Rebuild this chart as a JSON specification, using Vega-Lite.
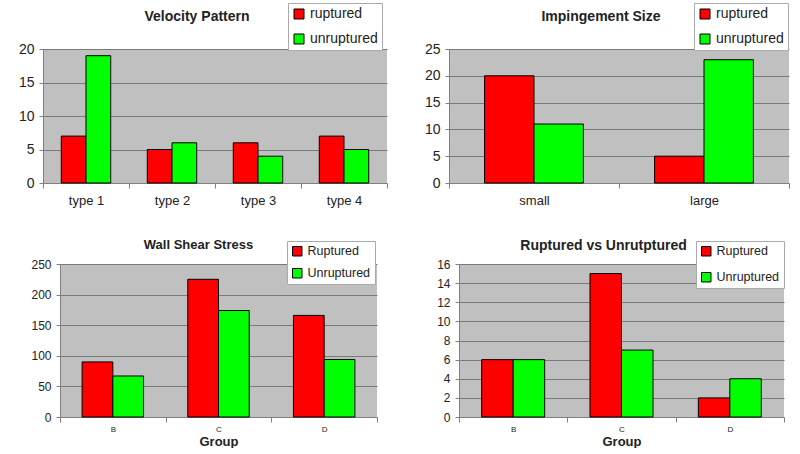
{
  "$schema": "https://vega.github.io/schema/vega-lite/v6.json",
  "background": "white",
  "padding": {"left": 0, "top": 2, "right": 0, "bottom": 0},
  "config": {
    "font": "Liberation Sans",
    "view": {"fill": "#C0C0C0", "stroke": null},
    "axis": {"labelColor": "#222", "domainColor": "#808080", "tickColor": "#808080", "gridColor": "#7a7a7a", "gridOpacity": 1, "labelFont": "Liberation Sans"},
    "axisY": {"grid": true, "tickSize": 4, "labelPadding": 5},
    "axisX": {"grid": false, "tickSize": 5, "labelAngle": 0},
    "title": {"font": "Liberation Sans", "fontWeight": "bold", "color": "#222", "frame": "group"},
    "legend": {"fillColor": "white", "strokeColor": "#aaa", "symbolType": "square", "symbolStrokeColor": "black", "symbolStrokeWidth": 1, "labelColor": "#222", "labelFont": "Liberation Sans", "labelOffset": 4}
  },
  "spacing": 31,
  "resolve": {"scale": {"color": "independent", "x": "independent", "y": "independent", "xOffset": "independent"}, "legend": {"color": "independent"}, "axis": {"x": "independent", "y": "independent"}},
  "vconcat": [
    {
      "spacing": 18,
      "resolve": {"scale": {"color": "independent", "x": "independent", "y": "independent", "xOffset": "independent"}, "legend": {"color": "independent"}},
      "hconcat": [
        {
          "width": 344, "height": 134,
          "title": {"text": "Velocity Pattern", "fontSize": 14, "dx": -18, "offset": -21},
          "data": {"values": [
            {"category": "type 1", "status": "ruptured", "count": 7},
            {"category": "type 1", "status": "unruptured", "count": 19},
            {"category": "type 2", "status": "ruptured", "count": 5},
            {"category": "type 2", "status": "unruptured", "count": 6},
            {"category": "type 3", "status": "ruptured", "count": 6},
            {"category": "type 3", "status": "unruptured", "count": 4},
            {"category": "type 4", "status": "ruptured", "count": 7},
            {"category": "type 4", "status": "unruptured", "count": 5}
          ]},
          "mark": {"type": "bar", "stroke": "black", "strokeWidth": 1},
          "encoding": {
            "x": {"field": "category", "type": "nominal", "sort": null, "scale": {"paddingInner": 0, "paddingOuter": 0}, "axis": {"title": null, "tickBand": "extent", "labelFontSize": 13, "labelPadding": 6}},
            "xOffset": {"field": "status", "sort": ["ruptured", "unruptured"], "scale": {"paddingInner": 0, "paddingOuter": 0.74}},
            "y": {"field": "count", "type": "quantitative", "scale": {"domain": [0, 20]}, "axis": {"title": null, "values": [0, 5, 10, 15, 20], "labelFontSize": 14, "minExtent": 43, "maxExtent": 43}},
            "color": {"field": "status", "type": "nominal", "scale": {"domain": ["ruptured", "unruptured"], "range": ["#FF0000", "#00FF00"]}, "legend": {"title": null, "orient": "none", "legendX": 245, "legendY": -46, "labelFontSize": 14, "symbolSize": 100, "rowPadding": 11, "padding": 4}}
          }
        },
        {
          "width": 340, "height": 134,
          "title": {"text": "Impingement Size", "fontSize": 14, "dx": -18, "offset": -21},
          "data": {"values": [
            {"category": "small", "status": "ruptured", "count": 20},
            {"category": "small", "status": "unruptured", "count": 11},
            {"category": "large", "status": "ruptured", "count": 5},
            {"category": "large", "status": "unruptured", "count": 23}
          ]},
          "mark": {"type": "bar", "stroke": "black", "strokeWidth": 1},
          "encoding": {
            "x": {"field": "category", "type": "nominal", "sort": null, "scale": {"paddingInner": 0, "paddingOuter": 0}, "axis": {"title": null, "tickBand": "extent", "labelFontSize": 13, "labelPadding": 6}},
            "xOffset": {"field": "status", "sort": ["ruptured", "unruptured"], "scale": {"paddingInner": 0, "paddingOuter": 0.72}},
            "y": {"field": "count", "type": "quantitative", "scale": {"domain": [0, 25]}, "axis": {"title": null, "values": [0, 5, 10, 15, 20, 25], "labelFontSize": 14, "minExtent": 43, "maxExtent": 43}},
            "color": {"field": "status", "type": "nominal", "scale": {"domain": ["ruptured", "unruptured"], "range": ["#FF0000", "#00FF00"]}, "legend": {"title": null, "orient": "none", "legendX": 245, "legendY": -46, "labelFontSize": 14, "symbolSize": 100, "rowPadding": 11, "padding": 4}}
          }
        }
      ]
    },
    {
      "spacing": -15,
      "resolve": {"scale": {"color": "independent", "x": "independent", "y": "independent", "xOffset": "independent"}, "legend": {"color": "independent"}},
      "hconcat": [
        {
          "width": 2, "height": 153,
          "view": {"fill": null, "stroke": null},
          "data": {"values": []},
          "mark": "point",
          "encoding": {}
        },
        {
          "width": 317, "height": 153,
          "title": {"text": "Wall Shear Stress", "fontSize": 13, "dx": -20, "offset": -11},
          "data": {"values": [
            {"category": "B", "status": "Ruptured", "value": 90},
            {"category": "B", "status": "Unruptured", "value": 67},
            {"category": "C", "status": "Ruptured", "value": 225},
            {"category": "C", "status": "Unruptured", "value": 174},
            {"category": "D", "status": "Ruptured", "value": 166},
            {"category": "D", "status": "Unruptured", "value": 94}
          ]},
          "mark": {"type": "bar", "stroke": "black", "strokeWidth": 1},
          "encoding": {
            "x": {"field": "category", "type": "nominal", "sort": null, "scale": {"paddingInner": 0, "paddingOuter": 0}, "axis": {"title": "Group", "titleFontSize": 13, "titleFontWeight": "bold", "titleColor": "#222", "titlePadding": 2, "tickBand": "extent", "labelFontSize": 8, "labelPadding": 3}},
            "xOffset": {"field": "status", "sort": ["Ruptured", "Unruptured"], "scale": {"paddingInner": 0, "paddingOuter": 0.72}},
            "y": {"field": "value", "type": "quantitative", "scale": {"domain": [0, 250]}, "axis": {"title": null, "values": [0, 50, 100, 150, 200, 250], "labelFontSize": 12, "minExtent": 30, "maxExtent": 30}},
            "color": {"field": "status", "type": "nominal", "scale": {"domain": ["Ruptured", "Unruptured"], "range": ["#FF0000", "#00FF00"]}, "legend": {"title": null, "orient": "none", "legendX": 227, "legendY": -23, "labelFontSize": 12.5, "symbolSize": 90, "rowPadding": 8, "padding": 4}}
          }
        },
        {
          "width": 325, "height": 153,
          "title": {"text": "Ruptured vs Unrutptured", "fontSize": 14, "dx": -18, "offset": -12},
          "data": {"values": [
            {"category": "B", "status": "Ruptured", "value": 6},
            {"category": "B", "status": "Unruptured", "value": 6},
            {"category": "C", "status": "Ruptured", "value": 15},
            {"category": "C", "status": "Unruptured", "value": 7},
            {"category": "D", "status": "Ruptured", "value": 2},
            {"category": "D", "status": "Unruptured", "value": 4}
          ]},
          "mark": {"type": "bar", "stroke": "black", "strokeWidth": 1},
          "encoding": {
            "x": {"field": "category", "type": "nominal", "sort": null, "scale": {"paddingInner": 0, "paddingOuter": 0}, "axis": {"title": "Group", "titleFontSize": 13, "titleFontWeight": "bold", "titleColor": "#222", "titlePadding": 2, "tickBand": "extent", "labelFontSize": 8, "labelPadding": 3}},
            "xOffset": {"field": "status", "sort": ["Ruptured", "Unruptured"], "scale": {"paddingInner": 0, "paddingOuter": 0.72}},
            "y": {"field": "value", "type": "quantitative", "scale": {"domain": [0, 16]}, "axis": {"title": null, "values": [0, 2, 4, 6, 8, 10, 12, 14, 16], "labelFontSize": 12, "minExtent": 96, "maxExtent": 96}},
            "color": {"field": "status", "type": "nominal", "scale": {"domain": ["Ruptured", "Unruptured"], "range": ["#FF0000", "#00FF00"]}, "legend": {"title": null, "orient": "none", "legendX": 237, "legendY": -23, "labelFontSize": 12.5, "symbolSize": 90, "rowPadding": 12, "padding": 4}}
          }
        }
      ]
    }
  ]
}
